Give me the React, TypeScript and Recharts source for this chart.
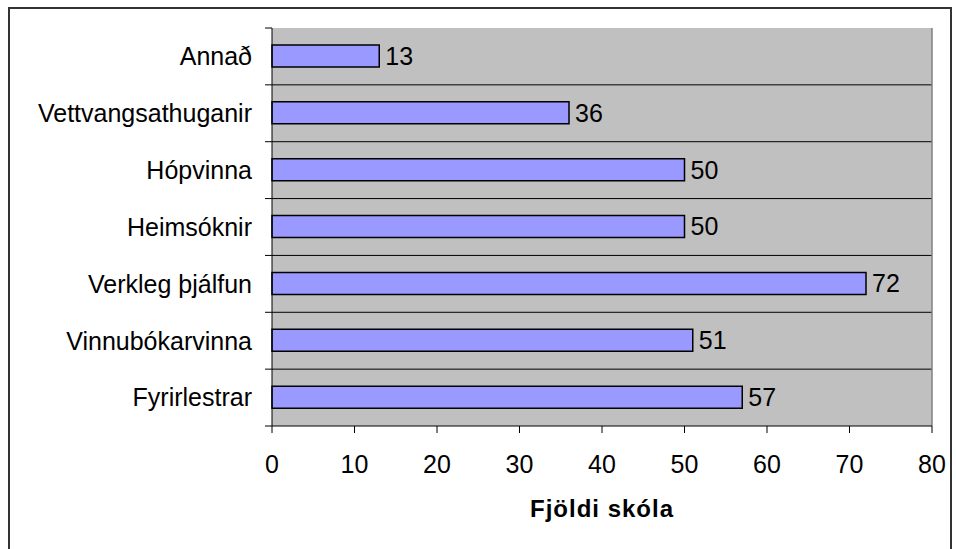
import React from 'react';
import {
  BarChart,
  Bar,
  XAxis,
  YAxis,
  CartesianGrid,
  ReferenceLine,
  LabelList,
  Label
} from 'recharts';

const categories = [
  'Annað',
  'Vettvangsathuganir',
  'Hópvinna',
  'Heimsóknir',
  'Verkleg þjálfun',
  'Vinnubókarvinna',
  'Fyrirlestrar',
];
const schoolCounts = [13, 36, 50, 50, 72, 51, 57];
const xTicks = [0, 10, 20, 30, 40, 50, 60, 70, 80];

const data = categories.map((name, i) => ({ name, value: schoolCounts[i] }));

const W = 956;
const H = 549;
const M = { top: 28, right: 24, left: 0, bottom: 63 };
const Y_W = 272;
const X_H = 60;
const PLOT_H = H - M.top - M.bottom - X_H;
const BAND = PLOT_H / categories.length;
const FONT = '"Liberation Sans", Arial, sans-serif';

// category label at band centre, tick mark at band boundary (Excel style)
const CatTick = (props: any) => {
  const { y, payload, index } = props;
  const axisX = M.left + Y_W;
  const top = y - BAND / 2;
  return (
    <g>
      <line x1={axisX - 7} x2={axisX} y1={top} y2={top} stroke="#000" />
      {index === categories.length - 1 && (
        <line x1={axisX - 7} x2={axisX} y1={top + BAND} y2={top + BAND} stroke="#000" />
      )}
      <text
        x={axisX - 20}
        y={y}
        dy="0.355em"
        textAnchor="end"
        fontSize={25}
        fill="#000"
        fontFamily={FONT}
      >
        {payload.value}
      </text>
    </g>
  );
};

export default function App() {
  return (
    <div style={{ position: 'absolute', left: 0, top: 0, width: W, height: H, overflow: 'hidden', background: '#fff' }}>
      <div
        style={{
          position: 'absolute',
          left: 8,
          top: 7,
          width: 944,
          height: 600,
          border: '2px solid #333',
          boxSizing: 'border-box',
        }}
      />
      <div style={{ position: 'absolute', left: 0, top: 0 }}>
        <BarChart
          width={W}
          height={H}
          data={data}
          layout="vertical"
          margin={M}
          barSize={22}
          style={{ fontFamily: FONT }}
        >
          <CartesianGrid
            vertical={false}
            fill="#C0C0C0"
            fillOpacity={1}
            stroke="#000"
            horizontalCoordinatesGenerator={({ offset }: any) =>
              categories.slice(1).map((_, i) => offset.top + (i + 1) * (offset.height / categories.length))
            }
          />
          <XAxis
            type="number"
            domain={[0, 80]}
            ticks={xTicks}
            interval={0}
            height={X_H}
            tickSize={7}
            tickMargin={22}
            axisLine={{ stroke: '#000' }}
            tickLine={{ stroke: '#000' }}
            tick={{ fontSize: 25, fill: '#000', fontFamily: FONT }}
          >
            <Label
              value="Fjöldi skóla"
              position="bottom"
              offset={14}
              style={{ fontSize: 24, fontWeight: 'bold', fill: '#000', fontFamily: FONT, letterSpacing: 1 }}
            />
          </XAxis>
          <YAxis
            type="category"
            dataKey="name"
            width={Y_W}
            interval={0}
            axisLine={{ stroke: '#000' }}
            tickLine={false}
            tick={<CatTick />}
          />
          <ReferenceLine x={80} stroke="#808080" strokeWidth={1.5} />
          <Bar dataKey="value" fill="#9999FF" stroke="#000" strokeWidth={1.5} isAnimationActive={false}>
            <LabelList
              dataKey="value"
              position="right"
              offset={6}
              style={{ fontSize: 25, fill: '#000', fontFamily: FONT }}
            />
          </Bar>
        </BarChart>
      </div>
    </div>
  );
}
